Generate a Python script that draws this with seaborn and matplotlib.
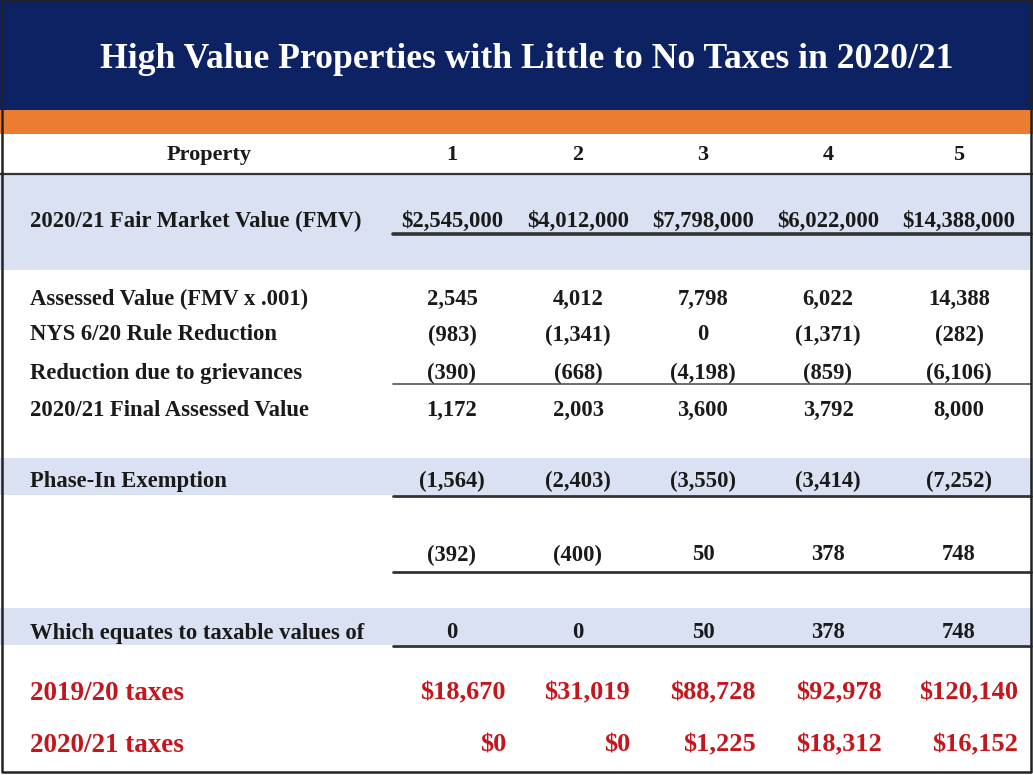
import matplotlib
matplotlib.use("Agg")
import matplotlib.pyplot as plt
import seaborn as sns

# table contents
title = "High Value Properties with Little to No Taxes in 2020/21"
properties = ["1", "2", "3", "4", "5"]
fmv = [2545000, 4012000, 7798000, 6022000, 14388000]
assessed = [2545, 4012, 7798, 6022, 14388]
rule_reduction = [-983, -1341, 0, -1371, -282]
grievances = [-390, -668, -4198, -859, -6106]
final_assessed = [1172, 2003, 3600, 3792, 8000]
phase_in = [-1564, -2403, -3550, -3414, -7252]
net_value = [-392, -400, 50, 378, 748]
taxable = [0, 0, 50, 378, 748]
taxes_1920 = [18670, 31019, 88728, 92978, 120140]
taxes_2021 = [0, 0, 1225, 18312, 16152]


def acct(v):
    # accounting style: negatives in brackets
    return f"({abs(v):,})" if v < 0 else f"{v:,}"


def dollars(v):
    return f"${v:,}"


sns.set_style("white")
plt.rcParams['font.family'] = ['Liberation Serif', 'DejaVu Serif']

navy = '#0c2262'
orange = '#ea7d32'
band = '#d9e1f2'
red = '#c3161d'
dark = '#1a1a1a'

fig = plt.figure(figsize=(10.33, 7.75), dpi=100)
ax = fig.add_axes([0, 0, 1, 1])
ax.set_xlim(0, 1033)
ax.set_ylim(775, 0)
ax.axis('off')

# background bands
ax.axhspan(0, 110, color=navy, lw=0)
ax.axhspan(110, 134, color=orange, lw=0)
ax.axhspan(174, 270, color=band, lw=0)
ax.axhspan(458, 495, color=band, lw=0)
ax.axhspan(608, 645, color=band, lw=0)

ax.text(527, 59, title, color='white', fontsize=25.7, fontweight='bold',
        ha='center', va='center')

col_centers = [452, 578, 703, 828, 959]
col_rights = [506, 630, 756, 882, 1018]
label_x = 30
body_fs = 16.3

# header row
ax.text(209, 155, "Property", fontsize=16, fontweight='bold', ha='center', va='center', color=dark)
for x, p in zip(col_centers, properties):
    ax.text(x, 155, p, fontsize=16, fontweight='bold', ha='center', va='center', color=dark)

rows = [
    (221, "2020/21 Fair Market Value (FMV)", [dollars(v) for v in fmv]),
    (299, "Assessed Value (FMV x .001)", [acct(v) for v in assessed]),
    (335, "NYS 6/20 Rule Reduction", [acct(v) for v in rule_reduction]),
    (373, "Reduction due to grievances", [acct(v) for v in grievances]),
    (410, "2020/21 Final Assessed Value", [acct(v) for v in final_assessed]),
    (481, "Phase-In Exemption", [acct(v) for v in phase_in]),
    (555, "", [acct(v) for v in net_value]),
    (633, "Which equates to taxable values of", [acct(v) for v in taxable]),
]
for y, label, vals in rows:
    if label:
        ax.text(label_x, y, label, fontsize=body_fs, fontweight='bold', ha='left', va='center', color=dark)
    for x, s in zip(col_centers, vals):
        ax.text(x, y, s, fontsize=body_fs, fontweight='bold', ha='center', va='center', color=dark)

red_rows = [
    (693, "2019/20 taxes", [dollars(v) for v in taxes_1920]),
    (745, "2020/21 taxes", [dollars(v) for v in taxes_2021]),
]
for y, label, vals in red_rows:
    ax.text(label_x, y, label, fontsize=19.5, fontweight='bold', ha='left', va='center', color=red)
    for x, s in zip(col_rights, vals):
        ax.text(x, y, s, fontsize=19, fontweight='bold', ha='right', va='center', color=red)

# rules
ax.plot([0, 1033], [173.5, 173.5], color='#333333', lw=1.6)
ax.plot([393, 1031], [233.5, 233.5], color='#333333', lw=2.6)
ax.plot([393, 1031], [383.5, 383.5], color='#555555', lw=1.2)
ax.plot([393, 1031], [495.5, 495.5], color='#333333', lw=2.0)
ax.plot([393, 1031], [571.5, 571.5], color='#333333', lw=2.0)
ax.plot([393, 1031], [645.5, 645.5], color='#333333', lw=2.0)

# outer frame
ax.plot([2, 2, 1030.5, 1030.5, 2], [0, 771.5, 771.5, 0, 0], color='#222222', lw=1.8)

fig.savefig("out.png", dpi=100)
